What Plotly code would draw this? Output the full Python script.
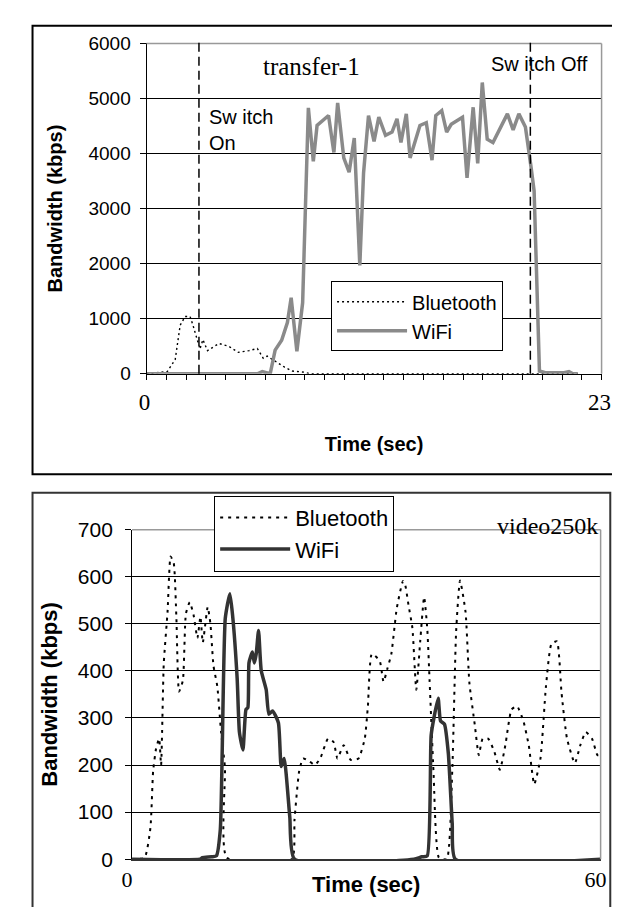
import plotly.graph_objects as go

W, H = 620, 907


def px(x):
    return x / W


def py(y):
    return 1 - y / H


# ---------------- top chart: transfer-1 ----------------
top_bt_time = [0, 1.05, 1.45, 1.7, 1.95, 2.2, 2.35, 2.55, 2.7, 2.85, 3.08, 3.66, 4.15,
               4.64, 5.18, 5.6, 5.9, 6.1, 6.5, 6.98, 7.37, 7.96, 8.3, 21.8]
top_bt_kbps = [0, 40, 260, 880, 1040, 1040, 880, 620, 450, 620, 420, 550, 500,
               390, 420, 460, 280, 320, 230, 120, 50, 30, 0, 0]

top_wifi_time = [0, 5.6, 5.85, 6.25, 6.5, 6.83, 7.12, 7.31, 7.6, 7.89,
                 8.18, 8.43, 8.62, 9.2, 9.47, 9.66, 9.97, 10.24, 10.5, 10.78,
                 10.97, 11.22, 11.5, 11.74, 12.08, 12.41, 12.66, 12.86, 13.13, 13.32,
                 13.82, 14.14, 14.43, 14.62, 14.92, 15.17, 15.4, 15.97, 16.2, 16.51,
                 16.74, 16.97, 17.22, 17.51, 18.24, 18.53, 18.82, 19.15, 19.44, 19.59,
                 19.86, 20.16, 21.1, 21.35, 21.55, 21.8]
top_wifi_kbps = [0, 0, 40, 0, 430, 610, 930, 1380, 410, 1290,
                 4830, 3860, 4510, 4690, 4020, 4920, 3920, 3660, 4280, 1970,
                 3650, 4690, 4220, 4660, 4330, 4390, 4630, 4200, 4720, 3920,
                 4510, 4560, 3880, 4690, 4780, 4390, 4530, 4660, 3560, 4840,
                 3820, 5290, 4260, 4200, 4720, 4430, 4720, 4480, 3740, 3320,
                 50, 20, 20, 40, 0, 0]

switch_times = [2.65, 19.4]
top_x_ticks = list(range(0, 24))
top_x_labels = ["0"] + [""] * 22 + ["23"]
top_y_ticks = [0, 1000, 2000, 3000, 4000, 5000, 6000]

# ---------------- bottom chart: video250k ----------------
bot_bt_time = [0, 1.6, 2.35, 2.7, 3.08, 3.47, 3.72, 4.06, 4.55, 4.94,
               5.34, 5.68, 6.02, 6.51, 6.9, 7.39, 7.88, 8.37, 8.76, 9.06,
               9.69, 10.03, 10.43, 10.92, 11.4, 11.9, 12.14, 20.46, 20.8, 21.4,
               21.9, 22.7, 23.4, 24.1, 25.1, 25.8, 26.3, 27.1, 28.0, 29.0,
               29.8, 30.2, 30.7, 31.7, 32.2, 32.7, 33.2, 33.9, 34.7, 35.0,
               35.4, 35.9, 36.4, 36.9, 37.4, 37.8, 38.1, 38.6, 39.3, 40.3,
               41.0, 41.5, 42.0, 42.7, 43.2, 43.9, 44.4, 44.9, 45.6, 46.4,
               47.1, 47.8, 48.6, 49.3, 50.1, 50.8, 51.5, 52.3, 53.0, 53.7,
               54.4, 55.0, 55.7, 56.7, 57.4, 58.1, 58.9, 59.6, 60]
bot_bt_kbps = [0, 3, 66, 187, 235, 256, 200, 415, 526, 643,
               629, 512, 356, 380, 522, 546, 519, 470, 515, 460,
               536, 501, 411, 367, 270, 194, 3, 0, 83, 187,
               214, 208, 200, 214, 256, 249, 214, 242, 211, 214,
               256, 325, 436, 422, 377, 405, 436, 533, 591, 581,
               540, 491, 360, 463, 557, 491, 380, 187, 3, 0,
               187, 484, 592, 526, 374, 284, 221, 256, 256, 228,
               190, 242, 318, 325, 294, 242, 159, 214, 367, 457,
               463, 353, 256, 204, 242, 270, 256, 221, 221]

bot_wifi_time = [0, 8.7, 9.0, 10.2, 10.8, 11.3, 11.94, 12.53, 12.87, 13.46,
                 13.75, 14.2, 14.59, 14.83, 14.98, 15.42, 15.66, 15.9, 16.2, 16.54,
                 17.18, 17.52, 18.0, 18.74, 19.1, 19.48, 20.2, 20.8, 36.1, 37.1,
                 37.8, 38.3, 38.7, 39.2, 39.5, 40.0, 40.5, 41.0, 41.4, 60]
bot_wifi_kbps = [0, 0, 3, 5, 7, 62, 512, 564, 519, 384,
                 270, 232, 318, 322, 418, 440, 417, 436, 486, 401,
                 360, 308, 315, 290, 197, 214, 90, 0, 0, 5,
                 7, 263, 304, 342, 294, 287, 225, 76, 0, 0]

bot_x_ticks = [0, 60]
bot_y_ticks = [0, 100, 200, 300, 400, 500, 600, 700]

SANS = "Liberation Sans"
SERIF = "Liberation Serif"

fig = go.Figure()

fig.add_trace(go.Scatter(x=top_bt_time, y=top_bt_kbps, name="Bluetooth", mode="lines",
                         line=dict(color="black", width=1.4, dash="2px,3px"),
                         xaxis="x", yaxis="y", legend="legend"))
fig.add_trace(go.Scatter(x=top_wifi_time, y=top_wifi_kbps, name="WiFi", mode="lines",
                         line=dict(color="#8a8a8a", width=3.5),
                         xaxis="x", yaxis="y", legend="legend"))

fig.add_trace(go.Scatter(x=bot_bt_time, y=bot_bt_kbps, name="Bluetooth", mode="lines",
                         line=dict(color="black", width=2, dash="3px,5px", shape="spline",
                                   smoothing=0.5),
                         xaxis="x2", yaxis="y2", legend="legend2"))
fig.add_trace(go.Scatter(x=bot_wifi_time, y=bot_wifi_kbps, name="WiFi", mode="lines",
                         line=dict(color="#333333", width=3.5, shape="spline", smoothing=0.5),
                         xaxis="x2", yaxis="y2", legend="legend2"))

shapes = [
    dict(type="rect", xref="paper", yref="paper", x0=px(14), x1=px(615), y0=py(466), y1=py(6),
         line=dict(color="black", width=2)),
    dict(type="rect", xref="paper", yref="paper", x0=px(14), x1=px(612), y0=py(915), y1=py(485),
         line=dict(color="#333333", width=2)),
    dict(type="line", xref="x domain", yref="y domain", x0=0, x1=1, y0=1, y1=1,
         line=dict(color="#999999", width=1.5), layer="above"),
    dict(type="line", xref="x domain", yref="y domain", x0=1, x1=1, y0=0, y1=1,
         line=dict(color="#999999", width=1.5), layer="above"),
    dict(type="line", xref="x2 domain", yref="y2 domain", x0=0, x1=1, y0=1, y1=1,
         line=dict(color="#999999", width=1.5), layer="above"),
    dict(type="line", xref="x2 domain", yref="y2 domain", x0=1, x1=1, y0=0, y1=1,
         line=dict(color="#999999", width=1.5), layer="above"),
]
for t in switch_times:
    shapes.append(dict(type="line", xref="x", yref="paper", x0=t, x1=t, y0=py(363), y1=py(20),
                       line=dict(color="black", width=1.5, dash="9px,5px"), layer="above"))

annotations = [
    dict(text="transfer-1", x=px(303), y=py(48), xref="paper", yref="paper",
         xanchor="center", yanchor="middle", showarrow=False,
         font=dict(family=SERIF, size=25, color="black")),
    dict(text="Sw itch<br>On", x=px(195), y=py(86), xref="paper", yref="paper",
         xanchor="left", yanchor="top", align="left", showarrow=False,
         font=dict(family=SANS, size=20, color="black")),
    dict(text="Sw itch Off", x=px(486), y=py(45), xref="paper", yref="paper",
         xanchor="left", yanchor="middle", showarrow=False,
         font=dict(family=SANS, size=20, color="black")),
    dict(text="video250k", x=px(601), y=py(519), xref="paper", yref="paper",
         xanchor="right", yanchor="middle", showarrow=False,
         font=dict(family=SERIF, size=24, color="black")),
    dict(text="Time (sec)", x=px(359.5), y=py(887), xref="paper", yref="paper",
         xanchor="center", yanchor="middle", showarrow=False,
         font=dict(family=SANS, size=22, color="black", weight="bold")),
]

fig.update_layout(
    width=W, height=H,
    margin=dict(l=0, r=0, t=0, b=0),
    paper_bgcolor="white", plot_bgcolor="white",
    shapes=shapes, annotations=annotations,
    xaxis=dict(domain=[px(132), px(603)], range=[0, 23], anchor="y",
               tickmode="array", tickvals=top_x_ticks, ticktext=top_x_labels,
               ticks="outside", ticklen=5, tickwidth=1, tickcolor="black",
               showline=True, linecolor="black", linewidth=1,
               showgrid=False, zeroline=False, ticklabelstandoff=3, ticklabelshift=-2,
               tickfont=dict(family=SERIF, size=23, color="black"),
               title=dict(text="Time (sec)", standoff=22,
                          font=dict(family=SANS, size=20, color="black", weight="bold"))),
    yaxis=dict(domain=[py(363), py(24)], range=[0, 6000], anchor="x",
               tickmode="array", tickvals=top_y_ticks,
               ticks="outside", ticklen=6, tickwidth=1, tickcolor="black",
               showline=True, linecolor="black", linewidth=1,
               showgrid=True, gridcolor="black", gridwidth=1, zeroline=False,
               ticklabelstandoff=5,
               tickfont=dict(family=SANS, size=19, color="black"),
               title=dict(text="Bandwidth (kbps)", standoff=20,
                          font=dict(family=SANS, size=20, color="black", weight="bold"))),
    xaxis2=dict(domain=[px(117), px(602)], range=[0, 60], anchor="y2",
                tickmode="array", tickvals=bot_x_ticks, ticks="",
                showline=True, linecolor="#333333", linewidth=1.5,
                showgrid=False, zeroline=False, ticklabelstandoff=0, ticklabelshift=-5,
                tickfont=dict(family=SERIF, size=22, color="black")),
    yaxis2=dict(domain=[py(861), py(523)], range=[0, 700], anchor="x2",
                tickmode="array", tickvals=bot_y_ticks,
                ticks="outside", ticklen=6, tickwidth=1, tickcolor="black",
                showline=True, linecolor="black", linewidth=1,
                showgrid=True, gridcolor="black", gridwidth=1, zeroline=False,
                ticklabelstandoff=8,
                tickfont=dict(family=SANS, size=21, color="black"),
                title=dict(text="Bandwidth (kbps)", standoff=14,
                           font=dict(family=SANS, size=22, color="black", weight="bold"))),
    legend=dict(x=px(323), y=py(268), xanchor="left", yanchor="top",
                bgcolor="white", bordercolor="black", borderwidth=1, itemwidth=70,
                font=dict(family=SANS, size=20, color="black"), tracegroupgap=0),
    legend2=dict(x=px(202), y=py(488), xanchor="left", yanchor="top",
                 bgcolor="white", bordercolor="black", borderwidth=1, itemwidth=70,
                 font=dict(family=SANS, size=22, color="black"), tracegroupgap=0),
    showlegend=True,
)

fig.write_html("out.html")
